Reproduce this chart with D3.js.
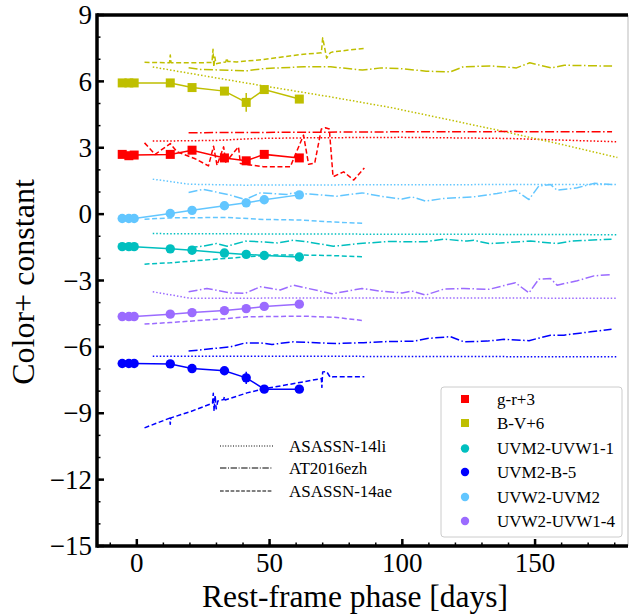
<!DOCTYPE html>
<html><head><meta charset="utf-8">
<script src="https://cdn.jsdelivr.net/npm/d3@7"></script>
<style>body{margin:0;background:#fff}svg{display:block;font-family:"Liberation Serif","Times New Roman",serif}</style>
</head><body><div id="chart"></div>
<script>
// ---------- data ----------
const phase = [-5.5, -3, -1, 12.6, 20.8, 33, 41.2, 48, 61.2];
const seriesNames = ["g-r+3", "B-V+6", "UVM2-UVW1-1", "UVM2-B-5", "UVW2-UVM2", "UVW2-UVW1-4"];
const gr       = [2.70, 2.64, 2.67, 2.70, 2.89, 2.54, 2.41, 2.70, 2.54];
const bv       = [5.93, 5.93, 5.93, 5.93, 5.72, 5.56, 5.05, 5.63, 5.20];
const uvm2uvw1 = [-1.47, -1.47, -1.47, -1.57, -1.63, -1.76, -1.82, -1.87, -1.94];
const uvm2b    = [-6.75, -6.75, -6.75, -6.77, -6.98, -7.08, -7.40, -7.91, -7.91];
const uvw2uvm2 = [-0.20, -0.20, -0.20, 0.03, 0.17, 0.38, 0.51, 0.65, 0.87];
const uvw2uvw1 = [-4.63, -4.63, -4.63, -4.52, -4.45, -4.36, -4.27, -4.17, -4.07];
const grErr       = [0.05, 0.05, 0.05, 0.05, 0.06, 0.08, 0.08, 0.06, 0.18];
const bvErr       = [0.05, 0.05, 0.05, 0.05, 0.08, 0.06, 0.42, 0.08, 0.18];
const uvm2uvw1Err = [0.04, 0.04, 0.04, 0.04, 0.05, 0.05, 0.05, 0.05, 0.05];
const uvm2bErr    = [0.05, 0.05, 0.05, 0.05, 0.06, 0.07, 0.28, 0.06, 0.06];
const uvw2uvm2Err = [0.04, 0.04, 0.04, 0.04, 0.05, 0.05, 0.05, 0.05, 0.05];
const uvw2uvw1Err = [0.04, 0.04, 0.04, 0.04, 0.05, 0.05, 0.05, 0.05, 0.05];

// ASASSN-14li (dotted)  [phase, value]
const li_gr = [[6,3.30],[30,3.33],[45,3.42],[65,3.45],[100,3.47],[140,3.42],[181,3.27]];
const li_bv = [[6,6.65],[40,5.95],[72.9,5.30],[95.5,4.82],[115,4.33],[135.7,3.80],[160,3.15],[181,2.56]];
const li_uvm2uvw1 = [[6,-0.88],[60,-0.90],[120,-0.91],[181,-0.93]];
const li_uvm2b = [[6,-6.42],[90,-6.43],[181,-6.45]];
const li_uvw2uvm2 = [[6,1.58],[20,1.35],[40,1.31],[100,1.33],[181,1.34]];
const li_uvw2uvw1 = [[6,-3.51],[20,-3.80],[100,-3.79],[181,-3.80]];

// AT2016ezh (dash-dot)
const ez_gr = [[19.5,3.68],[60,3.70],[100,3.72],[140,3.73],[179,3.72]];
const ez_bv = [[19.5,6.62],[24,6.54],[41.5,6.48],[48,6.58],[63,6.66],[73,6.66],[85,6.51],[92,6.61],[99,6.58],[109,6.46],[118,6.43],[123,6.66],[133,6.70],[143,6.61],[148,6.84],[156,6.61],[161,6.73],[179,6.69]];
const ez_uvm2uvw1 = [[19.5,-1.51],[25,-1.45],[30,-1.33],[34,-1.45],[41,-1.22],[46.5,-1.25],[53,-1.30],[59,-1.18],[64,-1.25],[74,-1.45],[84,-1.33],[94.5,-1.24],[108.7,-1.25],[115.6,-1.13],[124.4,-1.22],[126.9,-1.18],[132.6,-1.33],[148.3,-1.22],[158.3,-1.33],[163.4,-1.22],[178.8,-1.13]];
const ez_uvm2b = [[19.5,-6.19],[25.1,-6.12],[35.2,-6.00],[40.8,-5.82],[46.5,-5.82],[50.9,-5.89],[59,-5.77],[75.4,-5.85],[85.4,-5.81],[94.3,-5.76],[104.4,-5.74],[109.4,-5.62],[118.1,-5.54],[123.2,-5.77],[132,-5.74],[138.3,-5.66],[147.7,-5.72],[155.8,-5.47],[160.9,-5.47],[170.9,-5.32],[178.8,-5.20]];
const ez_uvw2uvm2 = [[19.5,0.98],[25.1,1.12],[35.2,0.86],[40.8,0.66],[46.5,0.96],[56.5,0.89],[59,0.96],[75.4,0.81],[84.8,0.96],[91.7,0.81],[99.9,0.68],[103.6,0.78],[108.7,0.59],[115.6,0.71],[126.9,0.78],[135.7,0.93],[142.6,1.08],[147.7,0.66],[151.4,1.27],[155.8,1.34],[158.3,1.08],[165.9,1.19],[172.2,1.39],[178.8,1.34]];
const ez_uvw2uvw1 = [[19.5,-3.51],[26.4,-3.36],[35.2,-3.56],[40.8,-3.58],[46.5,-3.28],[54,-3.43],[59,-3.21],[73.5,-3.60],[84.8,-3.36],[91.7,-3.48],[99.9,-3.56],[103.6,-3.48],[108.7,-3.66],[115.6,-3.39],[123.2,-3.36],[132.6,-3.40],[142.6,-3.10],[147.7,-3.56],[151.4,-2.94],[155.8,-2.91],[158.3,-3.21],[165.9,-3.01],[172.2,-2.79],[178.8,-2.73]];

// ASASSN-14ae (dashed)
const ae_gr = [[2.9,3.22],[6.9,2.70],[12.6,3.19],[15.1,2.82],[22,2.50],[27,2.18],[28.9,3.07],[30.2,2.21],[32.7,3.04],[33.5,2.35],[38.3,3.04],[39,2.29],[47.7,2.14],[57.8,2.14],[62.8,3.57],[64.7,2.25],[67,2.30],[69.5,3.85],[71,3.90],[72.5,3.85],[73.9,1.69],[77.9,1.91],[81.7,1.54],[85.7,2.09]];
const ae_bv = [[2.9,6.86],[12.3,6.84],[12.6,7.19],[12.9,6.84],[20,6.84],[28.3,6.85],[28.7,7.45],[29.0,6.65],[29.4,7.10],[29.8,6.80],[33.5,6.88],[33.9,7.05],[34.3,6.90],[37.7,6.88],[47.7,6.99],[62.8,7.23],[69.5,7.29],[70,7.97],[71.5,7.05],[72.9,7.30],[74.1,7.34],[85.7,7.49]];
const ae_uvm2uvw1 = [[2.9,-2.26],[12.6,-2.20],[25,-2.08],[33.9,-2.00],[41.5,-1.93],[50,-1.85],[62.8,-1.85],[72.9,-1.87],[85.7,-1.93]];
const ae_uvm2b = [[2.9,-9.66],[12.4,-9.22],[12.6,-9.50],[12.8,-9.21],[20.1,-8.93],[28.5,-8.55],[28.8,-8.10],[29.1,-8.90],[29.5,-8.20],[29.9,-8.80],[30.5,-8.45],[32.7,-8.38],[33,-8.25],[33.3,-8.40],[41.5,-8.08],[47.7,-7.90],[62.8,-7.58],[69.5,-7.43],[69.7,-7.83],[70,-7.13],[71.5,-7.12],[72.9,-7.38],[74.1,-7.35],[85.7,-7.35]];
const ae_uvw2uvm2 = [[2.9,-0.23],[12.6,-0.17],[33.9,-0.15],[47.7,-0.24],[62.8,-0.27],[72.9,-0.35],[85.7,-0.42]];
const ae_uvw2uvw1 = [[2.9,-4.97],[12.6,-4.90],[33.9,-4.72],[41.5,-4.64],[62.8,-4.61],[75.4,-4.67],[85.7,-4.82]];

const xTicks = [0, 50, 100, 150];
const yTicks = [9, 6, 3, 0, -3, -6, -9, -12, -15];
const refNames = ["ASASSN-14li", "AT2016ezh", "ASASSN-14ae"];

// ---------- styles ----------
const colors = {gr:"#ff0000", bv:"#bfbf00", uvm2uvw1:"#00bfbf", uvm2b:"#0000ff", uvw2uvm2:"#62c6ff", uvw2uvw1:"#9b6bff"};
const dashes = {li:"1.5,2", ez:"9,2.5,1.5,2.5", ae:"5,2.6"};

const W = 630, H = 615;
const m = {left:97, right:628, top:15, bottom:546};
const svg = d3.select("#chart").append("svg").attr("width", W).attr("height", H);
const x = d3.scaleLinear().domain([-15, 185]).range([m.left, m.right]);
const y = d3.scaleLinear().domain([-15, 9]).range([m.bottom, m.top]);

svg.append("defs").append("clipPath").attr("id","clip")
  .append("rect").attr("x", m.left).attr("y", m.top).attr("width", m.right-m.left).attr("height", m.bottom-m.top);

const plot = svg.append("g").attr("clip-path","url(#clip)");
const line = d3.line().x(d => x(d[0])).y(d => y(d[1]));

const refs = [
  ["li", {gr:li_gr, bv:li_bv, uvm2uvw1:li_uvm2uvw1, uvm2b:li_uvm2b, uvw2uvm2:li_uvw2uvm2, uvw2uvw1:li_uvw2uvw1}],
  ["ez", {gr:ez_gr, bv:ez_bv, uvm2uvw1:ez_uvm2uvw1, uvm2b:ez_uvm2b, uvw2uvm2:ez_uvw2uvm2, uvw2uvw1:ez_uvw2uvw1}],
  ["ae", {gr:ae_gr, bv:ae_bv, uvm2uvw1:ae_uvm2uvw1, uvm2b:ae_uvm2b, uvw2uvm2:ae_uvw2uvm2, uvw2uvw1:ae_uvw2uvw1}]
];
refs.forEach(([key, sets]) => {
  Object.keys(sets).forEach(c => {
    plot.append("path").datum(sets[c]).attr("d", line)
      .attr("fill","none").attr("stroke", colors[c]).attr("stroke-width",1.5)
      .attr("stroke-dasharray", dashes[key]).attr("stroke-linejoin","round");
  });
});

// main series
const mains = [
  {k:"gr", v:gr, e:grErr, shape:"square"},
  {k:"bv", v:bv, e:bvErr, shape:"square"},
  {k:"uvm2uvw1", v:uvm2uvw1, e:uvm2uvw1Err, shape:"circle"},
  {k:"uvm2b", v:uvm2b, e:uvm2bErr, shape:"circle"},
  {k:"uvw2uvm2", v:uvw2uvm2, e:uvw2uvm2Err, shape:"circle"},
  {k:"uvw2uvw1", v:uvw2uvw1, e:uvw2uvw1Err, shape:"circle"}
];
mains.forEach(s => {
  const pts = phase.map((p,i) => [p, s.v[i], s.e[i]]);
  const g = plot.append("g");
  g.append("path").datum(pts).attr("d", line).attr("fill","none")
    .attr("stroke", colors[s.k]).attr("stroke-width",1.5);
  g.selectAll("line.err").data(pts).join("line")
    .attr("x1", d => x(d[0])).attr("x2", d => x(d[0]))
    .attr("y1", d => y(d[1]-d[2])).attr("y2", d => y(d[1]+d[2]))
    .attr("stroke", colors[s.k]).attr("stroke-width",1.5);
  if (s.shape === "square") {
    g.selectAll("rect").data(pts).join("rect")
      .attr("x", d => x(d[0])-4.5).attr("y", d => y(d[1])-4.5)
      .attr("width",9).attr("height",9).attr("fill", colors[s.k]);
  } else {
    g.selectAll("circle").data(pts).join("circle")
      .attr("cx", d => x(d[0])).attr("cy", d => y(d[1])).attr("r",4.7)
      .attr("fill", colors[s.k]);
  }
});

// ---------- axes ----------
const ax = svg.append("g");
ax.selectAll("line.xmin").data(d3.range(-10, 185, 10)).join("line")
  .attr("x1", d => x(d)).attr("x2", d => x(d)).attr("y1", m.bottom).attr("y2", m.bottom-3.5)
  .attr("stroke","#000").attr("stroke-width",1.5);
ax.selectAll("line.ymin").data(d3.range(-15, 10, 1)).join("line")
  .attr("x1", m.left).attr("x2", m.left+3.5).attr("y1", d => y(d)).attr("y2", d => y(d))
  .attr("stroke","#000").attr("stroke-width",1.5);
ax.selectAll("line.xmaj").data(xTicks).join("line")
  .attr("x1", d => x(d)).attr("x2", d => x(d)).attr("y1", m.bottom).attr("y2", m.bottom-7)
  .attr("stroke","#000").attr("stroke-width",2.5);
ax.selectAll("line.ymaj").data(yTicks).join("line")
  .attr("x1", m.left).attr("x2", m.left+7).attr("y1", d => y(d)).attr("y2", d => y(d))
  .attr("stroke","#000").attr("stroke-width",2.5);
svg.append("line").attr("x1", m.right).attr("x2", m.right).attr("y1", m.top).attr("y2", m.bottom)
  .attr("stroke","#bbb").attr("stroke-width",1);
svg.append("line").attr("x1", m.left).attr("x2", m.right).attr("y1", m.top).attr("y2", m.top)
  .attr("stroke","#000").attr("stroke-width",3.5);
svg.append("line").attr("x1", m.left).attr("x2", m.right).attr("y1", m.bottom).attr("y2", m.bottom)
  .attr("stroke","#000").attr("stroke-width",3.5);
svg.append("line").attr("x1", m.left).attr("x2", m.left).attr("y1", m.top-1.75).attr("y2", m.bottom+1.75)
  .attr("stroke","#000").attr("stroke-width",3.5);

const fmt = d => d3.format("d")(d);
ax.selectAll("text.xt").data(xTicks).join("text")
  .attr("x", d => x(d)).attr("y", 572).attr("text-anchor","middle")
  .attr("font-size",27).text(fmt);
ax.selectAll("text.yt").data(yTicks).join("text")
  .attr("x", 92).attr("y", d => y(d)).attr("dy","0.34em").attr("text-anchor","end")
  .attr("font-size",27).text(fmt);

svg.append("text").attr("x", 355).attr("y", 606.5).attr("text-anchor","middle")
  .attr("font-size",31.5).text("Rest-frame phase [days]");
svg.append("text").attr("transform","translate(34,282) rotate(-90)").attr("text-anchor","middle")
  .attr("font-size",32).text("Color+ constant");

// ---------- legends ----------
const lg = svg.append("g");
lg.append("rect").attr("x",441).attr("y",387).attr("width",181).attr("height",150).attr("rx",3)
  .attr("fill","#fff").attr("fill-opacity",0.8).attr("stroke","#cccccc").attr("stroke-width",1);
const legKeys = ["gr","bv","uvm2uvw1","uvm2b","uvw2uvm2","uvw2uvw1"];
const legY = [399, 423, 448.5, 472, 497, 521];
legKeys.forEach((k,i) => {
  if (i < 2) {
    lg.append("rect").attr("x",461).attr("y",legY[i]-4).attr("width",8).attr("height",8).attr("fill",colors[k]);
  } else {
    lg.append("circle").attr("cx",465).attr("cy",legY[i]).attr("r",4.2).attr("fill",colors[k]);
  }
  lg.append("text").attr("x",497).attr("y",legY[i]).attr("dy","0.33em").attr("font-size",17).text(seriesNames[i]);
});

const lg2 = svg.append("g");
const refKeys = ["li","ez","ae"];
const ref2Y = [446, 468, 491];
refKeys.forEach((k,i) => {
  lg2.append("line").attr("x1",220).attr("x2",273).attr("y1",ref2Y[i]).attr("y2",ref2Y[i])
    .attr("stroke","#000").attr("stroke-width",1).attr("stroke-dasharray", k==="li" ? "1,1.6" : (k==="ez" ? "6.4,1.6,1,1.6" : "3.7,1.6"));
  lg2.append("text").attr("x",289).attr("y",ref2Y[i]).attr("dy","0.33em").attr("font-size",17).text(refNames[i]);
});
</script></body></html>
